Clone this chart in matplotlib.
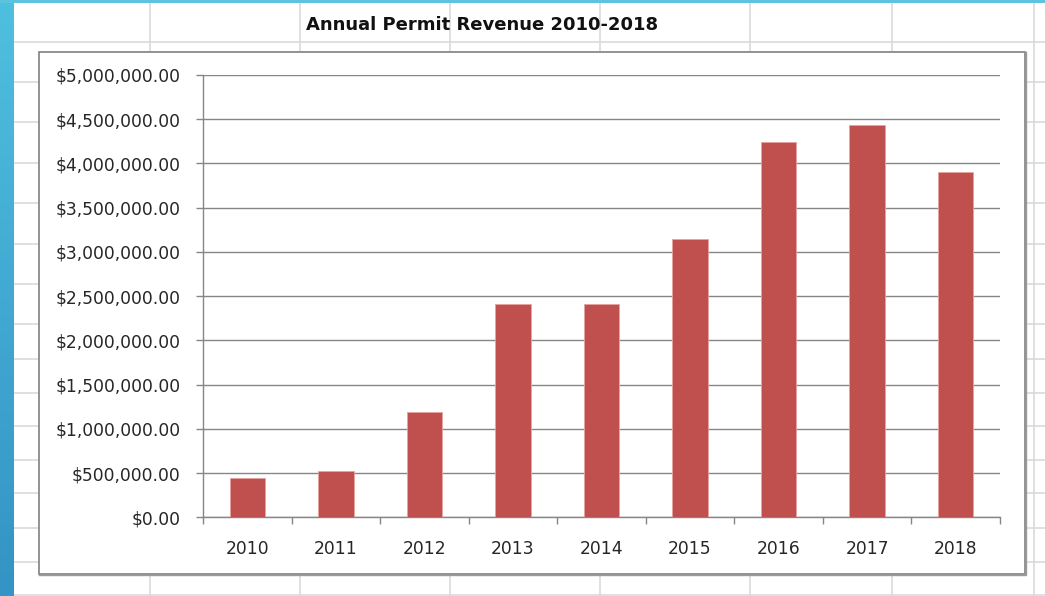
import numpy as np
import matplotlib
matplotlib.use("Agg")
import matplotlib.pyplot as plt
from matplotlib.colors import LinearSegmentedColormap
from matplotlib.patches import Rectangle
from matplotlib.ticker import FuncFormatter, MultipleLocator

plt.rcParams['font.family'] = ['DejaVu Sans']

# data
years = ["2010", "2011", "2012", "2013", "2014", "2015", "2016", "2017", "2018"]
revenue = [448000, 523000, 1187000, 2408000, 2408000, 3149000, 4239000, 4431000, 3900000]

title = "Annual Permit Revenue 2010-2018"
bar_color = "#C0504D"
grid_gray = "#868686"
sheet_gray = "#dadada"

W, H = 1045, 596

fig = plt.figure(figsize=(W / 100, H / 100), dpi=100)
fig.patch.set_facecolor("white")

# spreadsheet background
bg = fig.add_axes([0, 0, 1, 1])
bg.set_xlim(0, W)
bg.set_ylim(H, 0)
bg.axis("off")

sheet_rows = [42, 82, 122, 163, 203, 244, 284, 324, 359, 393, 426, 460, 493, 528, 562, 595]
sheet_cols = [150, 300, 450, 600, 750, 892, 1034]
for r in sheet_rows:
    bg.plot([14, W], [r, r], color=sheet_gray, lw=1.2, zorder=1)
for c in sheet_cols:
    bg.plot([c, c], [0, H], color=sheet_gray, lw=1.2, zorder=1)

# blue strip at left and line at top
cmap = LinearSegmentedColormap.from_list("strip", ["#4fbfdf", "#3494c5"])
bg.imshow(np.linspace(0, 1, 100).reshape(-1, 1), cmap=cmap, aspect="auto",
          extent=[0, 14, H, 0], zorder=3)
bg.add_patch(Rectangle((0, 0), W, 2.5, color="#5cc4e0", zorder=3, lw=0))

# sheet title cell
bg.text(482.5, 25, title, ha="center", va="center", fontsize=13,
        fontweight="bold", color="#111111", zorder=4)

# chart box
bg.add_patch(Rectangle((38.5, 51.5), 986.5, 522.5, facecolor="white",
                       edgecolor="#8a8a8a", lw=1.3, zorder=2))
bg.plot([39, 1025.5, 1025.5], [575, 575, 52], color="#9a9a9a", lw=1.0, zorder=2)

# plot area
ax = fig.add_axes([203 / W, (H - 517.3) / H, 797 / W, 442.3 / H])
ax.patch.set_alpha(0)

x = np.arange(len(years))
ax.bar(x, revenue, width=0.4, color=bar_color, edgecolor="#e3a3a1",
       linewidth=0.6, zorder=3)

ax.set_xlim(-0.5, len(years) - 0.5)
ax.set_ylim(0, 5000000)
ax.yaxis.set_major_locator(MultipleLocator(500000))
ax.yaxis.set_major_formatter(FuncFormatter(lambda v, p: "${:,.2f}".format(v)))
ax.grid(axis="y", color=grid_gray, lw=1.0, zorder=0)

ax.set_xticks(x)
ax.set_xticklabels(years)
ax.set_xticks(np.arange(len(years) + 1) - 0.5, minor=True)
ax.tick_params(axis="x", which="major", length=0, pad=16, labelsize=12.3,
               labelcolor="#262626")
ax.tick_params(axis="x", which="minor", length=5, width=1.0, color=grid_gray)
ax.tick_params(axis="y", length=5, width=1.0, color=grid_gray, pad=11,
               labelsize=12.3, labelcolor="#262626")

for s in ["top", "right"]:
    ax.spines[s].set_visible(False)
for s in ["left", "bottom"]:
    ax.spines[s].set_color(grid_gray)
    ax.spines[s].set_linewidth(1.0)

plt.savefig("out.png", dpi=100)
